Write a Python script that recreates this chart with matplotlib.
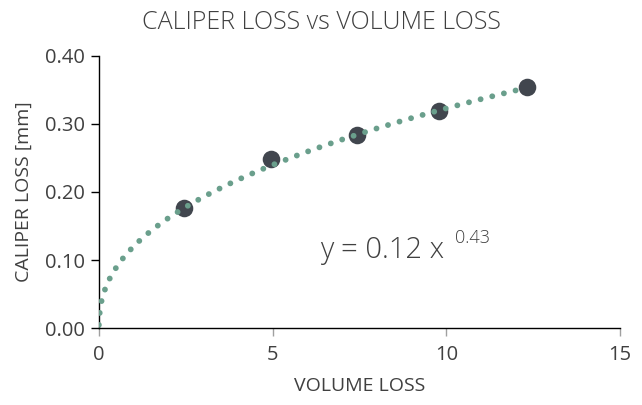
import numpy as np
import matplotlib
matplotlib.use("Agg")
import matplotlib.pyplot as plt

plt.rcParams['font.family'] = ['Open Sans', 'DejaVu Sans']

# Measured volume loss vs caliper loss
volume_loss = [2.45, 4.95, 7.43, 9.79, 12.32]
caliper_loss = [0.177, 0.248, 0.284, 0.319, 0.354]

# Power trendline y = a * x^b
coef_a = 0.12
coef_b = 0.43

x_ticks = [0, 5, 10, 15]
y_ticks = [0.00, 0.10, 0.20, 0.30, 0.40]

text_col = '#404040'
trend_col = '#6a9f8c'
point_col = '#41464e'

fig = plt.figure(figsize=(6.42, 4.05), dpi=100)
ax = fig.add_axes([0.154, 0.190, 0.812, 0.672])

ax.scatter(volume_loss, caliper_loss, s=160, color=point_col, zorder=2, linewidths=0)

xt = np.linspace(0.0005, max(volume_loss), 400)
yt = coef_a * xt ** coef_b
ax.plot(xt, yt, color=trend_col, lw=4.2, linestyle=(0, (0.01, 2.05)),
        dash_capstyle='round', zorder=3)

ax.set_xlim(0, 15)
ax.set_ylim(0, 0.40)
ax.set_xticks(x_ticks)
ax.set_yticks(y_ticks)
ax.set_xticklabels([str(v) for v in x_ticks])
ax.set_yticklabels([f"{v:.2f}" for v in y_ticks])

for s in ['top', 'right']:
    ax.spines[s].set_visible(False)
for s in ['left', 'bottom']:
    ax.spines[s].set_color('black')
    ax.spines[s].set_linewidth(1.0)

ax.tick_params(axis='x', direction='out', length=6, width=1, color='#a0a0a0',
               labelsize=14.5, labelcolor=text_col, pad=6)
ax.tick_params(axis='y', direction='out', length=6, width=1, color='black',
               labelsize=14.5, labelcolor=text_col, pad=4)

ax.set_xlabel('VOLUME LOSS', fontsize=14, color=text_col, labelpad=9)
ax.set_ylabel('CALIPER LOSS [mm]', fontsize=14, color=text_col, labelpad=9)

fig.suptitle('CALIPER LOSS vs VOLUME LOSS', x=0.5, y=0.975, fontsize=18,
             color=text_col, fontweight='light', va='top')

ax.text(6.36, 0.103, f'y = {coef_a:.2f} x', fontsize=21, color=text_col,
        fontweight='light', ha='left', va='baseline')
ax.text(10.25, 0.125, f'{coef_b:.2f}', fontsize=13, color=text_col,
        fontweight='light', ha='left', va='baseline')

fig.savefig('out.png', dpi=100)
